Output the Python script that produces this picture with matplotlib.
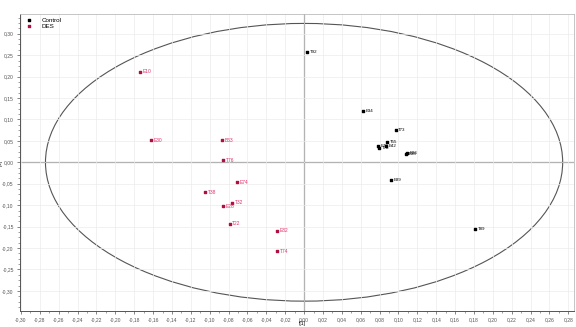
import matplotlib
matplotlib.use("Agg")
import matplotlib.pyplot as plt
import numpy as np
from matplotlib.patches import Ellipse
from matplotlib.ticker import FuncFormatter, MultipleLocator

plt.rcParams["font.family"] = ["Liberation Sans", "DejaVu Sans"]

# score values t[1], t[2]
control_names = ["T92", "E34", "T73", "T55", "E42", "E78", "T78", "E96", "E98", "E89", "T89"]
control_t1 = [0.003, 0.062, 0.097, 0.088, 0.087, 0.078, 0.079, 0.109, 0.108, 0.092, 0.181]
control_t2 = [0.258, 0.120, 0.075, 0.047, 0.038, 0.038, 0.033, 0.021, 0.019, -0.042, -0.155]

des_names = ["E10", "E30", "B63", "T76", "E74", "T38", "T32", "E28", "T22", "E82", "T74"]
des_t1 = [-0.174, -0.162, -0.087, -0.086, -0.071, -0.105, -0.076, -0.086, -0.079, -0.029, -0.029]
des_t2 = [0.211, 0.052, 0.052, 0.005, -0.047, -0.070, -0.094, -0.103, -0.143, -0.160, -0.207]

# Hotelling T2 ellipse semi-axes
ell_a, ell_b = 0.274, 0.324

fig = plt.figure(figsize=(5.76, 3.27), dpi=100)
ax = fig.add_axes([20 / 576, 1 - 311 / 327, 554 / 576, 297 / 327])

ax.set_xlim(-0.301, 0.286)
ax.set_ylim(-0.347, 0.346)

ax.xaxis.set_major_locator(MultipleLocator(0.02))
ax.xaxis.set_minor_locator(MultipleLocator(0.01))
ax.yaxis.set_major_locator(MultipleLocator(0.05))
ax.yaxis.set_minor_locator(MultipleLocator(0.0125))
comma = FuncFormatter(lambda v, p: f"{v:.2f}".replace(".", ",").replace("-0,00", "0,00"))
ax.xaxis.set_major_formatter(comma)
ax.yaxis.set_major_formatter(comma)
ax.tick_params(labelsize=3.6, length=2.5, width=0.5, pad=2, colors="#555555")
ax.tick_params(which="minor", length=1.5, width=0.4, colors="#555555")
ax.grid(True, which="major", color="#ececec", lw=0.5)

for side in ["top", "right"]:
    ax.spines[side].set_color("#bbbbbb")
    ax.spines[side].set_linewidth(0.6)
for side in ["left", "bottom"]:
    ax.spines[side].set_color("#555555")
    ax.spines[side].set_linewidth(0.7)

ax.axhline(0, color="#333333", lw=0.8, zorder=1)
ax.axvline(0, color="#333333", lw=0.8, zorder=1)
ax.add_patch(Ellipse((0, 0), 2 * ell_a, 2 * ell_b, fill=False,
                     ec="#555555", lw=0.8, zorder=1))

ax.scatter(control_t1, control_t2, s=4, marker="s", color="black",
           zorder=3, label="Control")
ax.scatter(des_t1, des_t2, s=4, marker="s", color="#b01040",
           zorder=3, label="DES")
for n, x, y in zip(control_names, control_t1, control_t2):
    ax.annotate(n, (x, y), xytext=(2, 0), textcoords="offset points",
                fontsize=3.2, va="center", color="black")
for n, x, y in zip(des_names, des_t1, des_t2):
    ax.annotate(n, (x, y), xytext=(2, 0), textcoords="offset points",
                fontsize=3.5, va="center", color="#e0306a")

ax.set_xlabel("t[1]", fontsize=3.5)
ax.set_ylabel("t[2]", fontsize=3.2)
ax.xaxis.set_label_coords(0.51, -0.035)
ax.yaxis.set_label_coords(-0.031, 0.5)
ax.legend(loc="upper left", fontsize=4.5, frameon=False, markerscale=1.0,
          handletextpad=1.0, borderaxespad=0.1, labelspacing=0.2)

fig.savefig("out.png", dpi=100)
